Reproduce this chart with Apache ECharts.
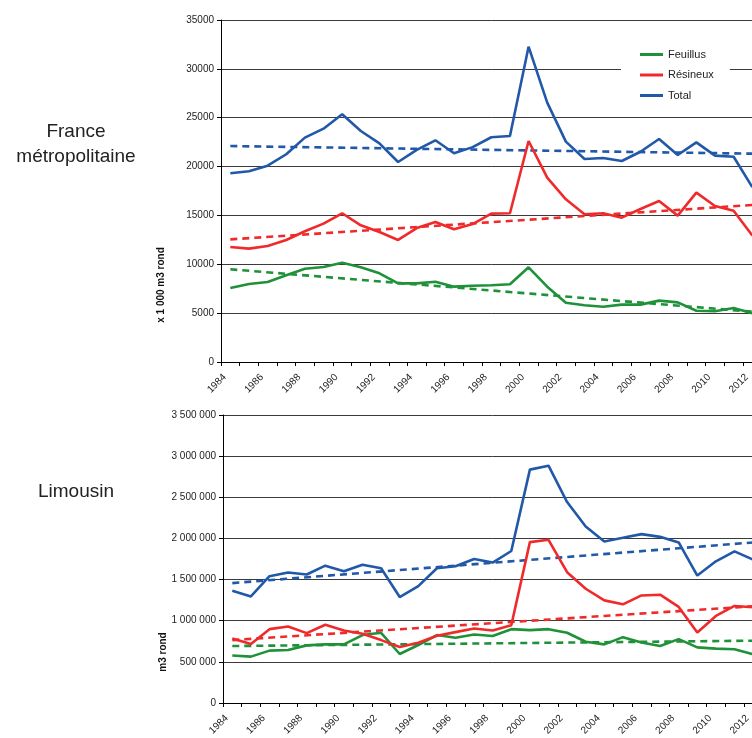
<!DOCTYPE html>
<html>
<head>
<meta charset="utf-8">
<script src="https://cdn.jsdelivr.net/npm/echarts@6/dist/echarts.min.js"></script>
<style>
html,body{margin:0;padding:0;background:#fff;overflow:hidden;}
#c{width:800px;height:738px;}
</style>
</head>
<body>
<div id="c"></div>
<script>
const years = ['1984','1985','1986','1987','1988','1989','1990','1991','1992','1993','1994','1995','1996','1997','1998','1999','2000','2001','2002','2003','2004','2005','2006','2007','2008','2009','2010','2011','2012'];

const franceFeuillus = [7570, 7980, 8190, 8870, 9550, 9720, 10160, 9690, 9080, 8050, 8050, 8220, 7710, 7810, 7850, 7950, 9690, 7710, 6070, 5800, 5660, 5870, 5870, 6280, 6100, 5250, 5190, 5530, 4980];
const franceResineux = [11770, 11600, 11870, 12490, 13380, 14160, 15220, 13990, 13300, 12490, 13710, 14330, 13580, 14120, 15180, 15220, 22620, 18860, 16650, 15120, 15220, 14770, 15660, 16480, 14980, 17330, 15970, 15480, 12950];
const franceTotal = [19310, 19520, 20090, 21260, 22960, 23880, 25350, 23640, 22380, 20470, 21700, 22690, 21360, 21990, 23000, 23130, 32270, 26540, 22550, 20780, 20880, 20570, 21520, 22820, 21180, 22480, 21120, 21010, 17900];

const limFeuillus = [576000, 563000, 636000, 643000, 700000, 712000, 712000, 825000, 853000, 595000, 704000, 825000, 793000, 833000, 813000, 897000, 885000, 897000, 853000, 744000, 712000, 800000, 736000, 692000, 776000, 676000, 660000, 652000, 591000];
const limResineux = [784000, 716000, 897000, 929000, 849000, 950000, 881000, 841000, 764000, 680000, 732000, 817000, 861000, 905000, 881000, 945000, 1955000, 1983000, 1589000, 1388000, 1247000, 1199000, 1307000, 1316000, 1167000, 857000, 1058000, 1179000, 1163000];
const limTotal = [1364000, 1295000, 1541000, 1585000, 1561000, 1669000, 1601000, 1681000, 1637000, 1287000, 1420000, 1637000, 1661000, 1750000, 1706000, 1847000, 2836000, 2884000, 2442000, 2144000, 1963000, 2007000, 2052000, 2019000, 1951000, 1549000, 1722000, 1843000, 1742000];

// trend lines: [value at first year, value at last year]
const franceTrendFeuillus = [9490, 5150];
const franceTrendResineux = [12550, 16070];
const franceTrendTotal = [22100, 21320];
const limTrendFeuillus = [692000, 757000];
const limTrendResineux = [764000, 1175000];
const limTrendTotal = [1457000, 1951000];

const franceTicks = [0, 35000, 5000];
const limTicks = [0, 3500000, 500000];

const GREEN = '#1f9138', RED = '#f02a2a', BLUE = '#2158a8';
const FONT = '"Liberation Sans", Arial, sans-serif';

function trend(pair){
  const a = years.map(() => null);
  a[0] = pair[0];
  a[a.length - 1] = pair[1];
  return a;
}
function spaced(v){
  return String(v).replace(/\B(?=(\d{3})+(?!\d))/g, ' ');
}

function xAxis(grid){
  return {
    type: 'category', gridIndex: grid, data: years, boundaryGap: true,
    axisLine: {lineStyle: {color: '#000', width: 1}},
    axisTick: {show: true, interval: 0, length: 4, lineStyle: {color: '#000'}},
    axisLabel: {interval: 1, rotate: 45, margin: 8, padding: [0, 8, 0, 0], fontSize: 10, color: '#222', fontFamily: FONT},
    splitLine: {show: false}
  };
}
function yAxis(grid, t, fmt){
  return {
    type: 'value', gridIndex: grid, min: t[0], max: t[1], interval: t[2],
    axisLine: {show: true, lineStyle: {color: '#000', width: 1}},
    axisTick: {show: true, length: 4, lineStyle: {color: '#000'}},
    axisLabel: {margin: 7, fontSize: 10, color: '#222', fontFamily: FONT, formatter: fmt},
    splitLine: {show: true, lineStyle: {color: '#3a3a3a', width: 1}}
  };
}
function solid(name, data, color, idx){
  return {name, type: 'line', data, xAxisIndex: idx, yAxisIndex: idx, showSymbol: false, symbol: 'none',
    lineStyle: {color, width: 2.6}, itemStyle: {color}, z: 3, silent: true};
}
function dashed(name, pair, color, idx){
  return {name, type: 'line', data: trend(pair), connectNulls: true, xAxisIndex: idx, yAxisIndex: idx,
    showSymbol: false, symbol: 'none', lineStyle: {color, width: 2.6, type: [7, 5]}, itemStyle: {color}, z: 2, silent: true};
}

const chart = echarts.init(document.getElementById('c'), null, {renderer: 'canvas'});
chart.setOption({
  animation: false,
  backgroundColor: '#fff',
  grid: [
    {left: 221, top: 20, width: 540.6, height: 342},
    {left: 223, top: 415, width: 539.4, height: 290}
  ],
  xAxis: [xAxis(0), xAxis(1)],
  yAxis: [yAxis(0, franceTicks, v => String(v)), yAxis(1, limTicks, v => spaced(v))],
  legend: {
    data: ['Feuillus', 'Résineux', 'Total'],
    orient: 'vertical', left: 621, top: 42,
    padding: [6, 16, 6, 19], backgroundColor: '#fff',
    icon: 'rect', itemWidth: 23, itemHeight: 3, itemGap: 7.5,
    textStyle: {fontSize: 11, color: '#222', fontFamily: FONT, lineHeight: 13},
    selectedMode: false
  },
  graphic: [
    {type: 'text', x: 76, y: 119, style: {text: 'France\nmétropolitaine', font: '19px ' + FONT, fill: '#222', align: 'center', lineHeight: 25}},
    {type: 'text', x: 76, y: 482, style: {text: 'Limousin', font: '19px ' + FONT, fill: '#222', align: 'center'}},
    {type: 'text', x: 161.5, y: 285, rotation: Math.PI / 2, style: {text: 'x 1 000 m3 rond', font: 'bold 10px ' + FONT, fill: '#111', align: 'center', verticalAlign: 'middle'}},
    {type: 'text', x: 163.5, y: 652, rotation: Math.PI / 2, style: {text: 'm3 rond', font: 'bold 10px ' + FONT, fill: '#111', align: 'center', verticalAlign: 'middle'}}
  ],
  series: [
    dashed('tF', franceTrendFeuillus, GREEN, 0),
    dashed('tR', franceTrendResineux, RED, 0),
    dashed('tT', franceTrendTotal, BLUE, 0),
    solid('Feuillus', franceFeuillus, GREEN, 0),
    solid('Résineux', franceResineux, RED, 0),
    solid('Total', franceTotal, BLUE, 0),
    dashed('lF', limTrendFeuillus, GREEN, 1),
    dashed('lR', limTrendResineux, RED, 1),
    dashed('lT', limTrendTotal, BLUE, 1),
    solid('Feuillus', limFeuillus, GREEN, 1),
    solid('Résineux', limResineux, RED, 1),
    solid('Total', limTotal, BLUE, 1)
  ]
});
</script>
</body>
</html>
